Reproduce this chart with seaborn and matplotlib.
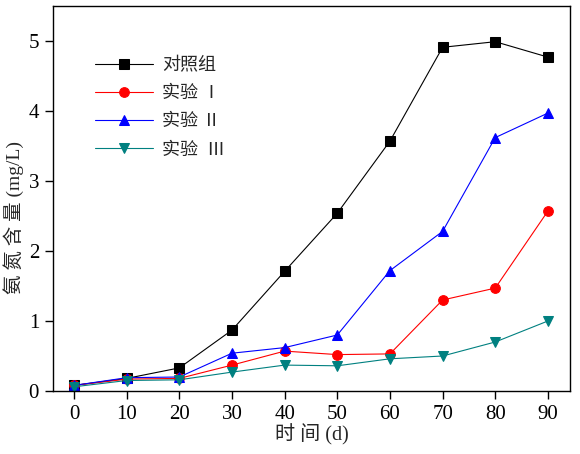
import numpy as np
import pandas as pd
import matplotlib
matplotlib.use('Agg')
from matplotlib import pyplot as plt
import seaborn as sns


days = [0, 10, 20, 30, 40, 50, 60, 70, 80, 90]
control = [0.08, 0.18, 0.33, 0.87, 1.71, 2.54, 3.57, 4.91, 4.99, 4.77]
exp_1 = [0.08, 0.17, 0.18, 0.37, 0.57, 0.52, 0.53, 1.30, 1.47, 2.57]
exp_2 = [0.08, 0.19, 0.20, 0.54, 0.62, 0.80, 1.72, 2.28, 3.62, 3.97]
exp_3 = [0.06, 0.15, 0.16, 0.27, 0.37, 0.36, 0.46, 0.50, 0.70, 1.00]

labels = ['对照组', '实验 Ⅰ', '实验 Ⅱ', '实验  Ⅲ']
colors = ['#000000', '#FF0000', '#0000FF', '#008080']
markers = ['s', 'o', '^', 'v']

fonts = ['Liberation Serif', 'Noto Sans CJK SC', 'DejaVu Sans']

if __name__ == '__main__':
    sns.set_style('ticks')
    plt.rcParams['font.family'] = fonts

    fig = plt.figure(figsize=(5.8, 4.54), dpi=100)
    ax = fig.add_axes([53 / 580, 1 - 391 / 454, 517 / 580, 385 / 454])

    for vals, label, color, marker in zip([control, exp_1, exp_2, exp_3],
                                          labels, colors, markers):
        df = pd.DataFrame({'day': days, 'value': vals})
        sns.lineplot(data=df, x='day', y='value', ax=ax, color=color,
                     marker=marker, markersize=7, linewidth=0.8,
                     markeredgecolor=color, label=label)

    ax.set_xlim(-4, 94.2)
    ax.set_ylim(0, 5.5)
    ax.set_xticks(days)
    ax.set_yticks([0, 1, 2, 3, 4, 5])
    ax.tick_params(labelsize=15, length=6, width=1, color='black',
                   labelcolor='black', direction='out', pad=4)
    for side in ['left', 'bottom', 'right', 'top']:
        ax.spines[side].set_color('black')
        ax.spines[side].set_linewidth(1)
    ax.set_xlabel('时 间 (d)', fontsize=14.5, labelpad=0)
    ax.set_ylabel('氨 氮 含 量 (mg/L)', fontsize=14)
    ax.yaxis.set_label_coords(-0.057, 0.45)

    ax.legend(loc='upper left', bbox_to_anchor=(0.05, 0.91), frameon=False,
              fontsize=13, handlelength=3.2, labelspacing=0.62,
              handletextpad=0.5)

    plt.savefig('out.png', dpi=100)
